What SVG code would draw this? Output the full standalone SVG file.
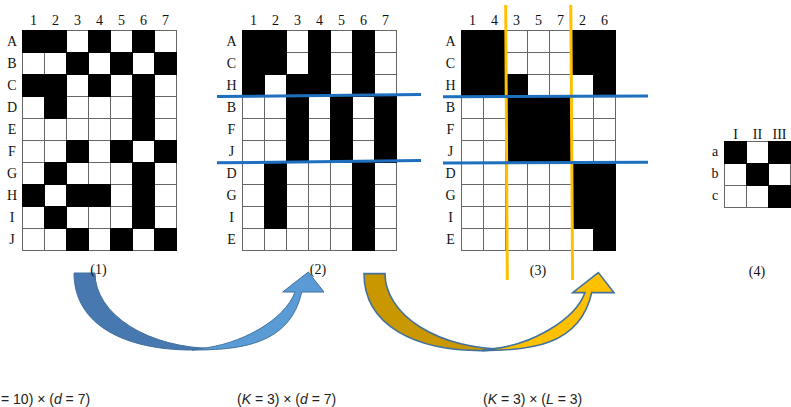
<svg xmlns="http://www.w3.org/2000/svg" xmlns:xlink="http://www.w3.org/1999/xlink" width="791" height="407" viewBox="0 0 791 407">
<style>
.g{fill:#fff;stroke:#666;stroke-width:1}
.gl{fill:none;stroke:#666;stroke-width:1}
.k{fill:#000;stroke:#000;stroke-width:1}
.lbl{font-family:"Liberation Serif","DejaVu Serif",serif;font-size:14px;fill:#111;text-anchor:middle}
.cap{font-family:"Liberation Sans",Arial,sans-serif;font-size:14px;fill:#222}
.it{font-style:italic}
.bl{stroke:#1f6fbf;stroke-width:3;fill:none}
.or{stroke:#ffc000;stroke-width:3;fill:none}
.ab{stroke:#41719c;stroke-width:1;stroke-linejoin:miter}
.ag{stroke:#41719c;stroke-width:1.6;stroke-linejoin:miter}
</style>
<defs>
<g id="grid">
<rect class="g" x="0" y="0" width="154" height="220"/>
<path class="gl" d="M22,0V220M44,0V220M66,0V220M88,0V220M110,0V220M132,0V220M0,22H154M0,44H154M0,66H154M0,88H154M0,110H154M0,132H154M0,154H154M0,176H154M0,198H154"/>
</g>
</defs>
<rect width="791" height="407" fill="#fff"/>

<g id="matrix1">
<use href="#grid" x="22.5" y="30.5"/>
<rect class="k" x="22.5" y="30.5" width="22" height="22"/>
<rect class="k" x="22.5" y="74.5" width="22" height="22"/>
<rect class="k" x="22.5" y="184.5" width="22" height="22"/>
<rect class="k" x="44.5" y="30.5" width="22" height="22"/>
<rect class="k" x="44.5" y="74.5" width="22" height="44"/>
<rect class="k" x="44.5" y="162.5" width="22" height="22"/>
<rect class="k" x="44.5" y="206.5" width="22" height="22"/>
<rect class="k" x="66.5" y="52.5" width="22" height="22"/>
<rect class="k" x="66.5" y="140.5" width="22" height="22"/>
<rect class="k" x="66.5" y="184.5" width="22" height="22"/>
<rect class="k" x="66.5" y="228.5" width="22" height="22"/>
<rect class="k" x="88.5" y="30.5" width="22" height="22"/>
<rect class="k" x="88.5" y="74.5" width="22" height="22"/>
<rect class="k" x="88.5" y="184.5" width="22" height="22"/>
<rect class="k" x="110.5" y="52.5" width="22" height="22"/>
<rect class="k" x="110.5" y="140.5" width="22" height="22"/>
<rect class="k" x="110.5" y="228.5" width="22" height="22"/>
<rect class="k" x="132.5" y="30.5" width="22" height="22"/>
<rect class="k" x="132.5" y="74.5" width="22" height="66"/>
<rect class="k" x="132.5" y="162.5" width="22" height="66"/>
<rect class="k" x="154.5" y="52.5" width="22" height="22"/>
<rect class="k" x="154.5" y="140.5" width="22" height="22"/>
<rect class="k" x="154.5" y="228.5" width="22" height="22"/>
<g class="lbl">
<text x="33.5" y="25">1</text><text x="55.5" y="25">2</text><text x="77.5" y="25">3</text><text x="99.5" y="25">4</text><text x="121.5" y="25">5</text><text x="143.5" y="25">6</text><text x="165.5" y="25">7</text>
<text x="12" y="46">A</text><text x="12" y="68">B</text><text x="12" y="90">C</text><text x="12" y="112">D</text><text x="12" y="134">E</text><text x="12" y="156">F</text><text x="12" y="178">G</text><text x="12" y="200">H</text><text x="12" y="222">I</text><text x="12" y="244">J</text>
</g>
</g>

<g id="matrix2">
<use href="#grid" x="242.5" y="30.5"/>
<rect class="k" x="242.5" y="30.5" width="22" height="66"/>
<rect class="k" x="264.5" y="30.5" width="22" height="44"/>
<rect class="k" x="264.5" y="162.5" width="22" height="66"/>
<rect class="k" x="286.5" y="74.5" width="22" height="88"/>
<rect class="k" x="308.5" y="30.5" width="22" height="66"/>
<rect class="k" x="330.5" y="96.5" width="22" height="66"/>
<rect class="k" x="352.5" y="30.5" width="22" height="66"/>
<rect class="k" x="352.5" y="162.5" width="22" height="88"/>
<rect class="k" x="374.5" y="96.5" width="22" height="66"/>
<g class="lbl">
<text x="253.5" y="25">1</text><text x="275.5" y="25">2</text><text x="297.5" y="25">3</text><text x="319.5" y="25">4</text><text x="341.5" y="25">5</text><text x="363.5" y="25">6</text><text x="385.5" y="25">7</text>
<text x="231.5" y="46">A</text><text x="231.5" y="68">C</text><text x="231.5" y="90">H</text><text x="231.5" y="112">B</text><text x="231.5" y="134">F</text><text x="231.5" y="156">J</text><text x="231.5" y="178">D</text><text x="231.5" y="200">G</text><text x="231.5" y="222">I</text><text x="231.5" y="244">E</text>
</g>
</g>

<g id="matrix3">
<use href="#grid" x="461.5" y="30.5"/>
<rect class="k" x="461.5" y="30.5" width="22" height="66"/>
<rect class="k" x="483.5" y="30.5" width="22" height="66"/>
<rect class="k" x="505.5" y="74.5" width="22" height="88"/>
<rect class="k" x="527.5" y="96.5" width="22" height="66"/>
<rect class="k" x="549.5" y="96.5" width="22" height="66"/>
<rect class="k" x="571.5" y="30.5" width="22" height="44"/>
<rect class="k" x="571.5" y="162.5" width="22" height="66"/>
<rect class="k" x="593.5" y="30.5" width="22" height="66"/>
<rect class="k" x="593.5" y="162.5" width="22" height="88"/>
<g class="lbl">
<text x="472.5" y="25">1</text><text x="494.5" y="25">4</text><text x="516.5" y="25">3</text><text x="538.5" y="25">5</text><text x="560.5" y="25">7</text><text x="582.5" y="25">2</text><text x="604.5" y="25">6</text>
<text x="450.5" y="46">A</text><text x="450.5" y="68">C</text><text x="450.5" y="90">H</text><text x="450.5" y="112">B</text><text x="450.5" y="134">F</text><text x="450.5" y="156">J</text><text x="450.5" y="178">D</text><text x="450.5" y="200">G</text><text x="450.5" y="222">I</text><text x="450.5" y="244">E</text>
</g>
</g>

<g id="matrix4">
<rect class="g" x="724.5" y="141.5" width="66" height="66"/>
<path class="gl" d="M746.5,141.5V207.5M768.5,141.5V207.5M724.5,163.5H790.5M724.5,185.5H790.5"/>
<rect class="k" x="724.5" y="141.5" width="22" height="22"/>
<rect class="k" x="768.5" y="141.5" width="22" height="22"/>
<rect class="k" x="746.5" y="163.5" width="22" height="22"/>
<rect class="k" x="768.5" y="185.5" width="22" height="22"/>
<g class="lbl">
<text x="735.5" y="138.5">I</text><text x="757.5" y="138.5">II</text><text x="779.5" y="138.5">III</text>
<text x="715" y="156">a</text><text x="715" y="178">b</text><text x="715" y="200">c</text>
</g>
</g>

<g id="cut-lines">
<path class="or" d="M505.7,5L507.3,280M570.8,5L572.6,280"/>
<path class="bl" d="M217,96.6L421,94.4M443,96.7L648,96M217,162.8L421,160.6M443,163L648,162.3"/>
</g>

<g id="connectors">
<g id="arrow-blue" class="ab">
<path fill="#4878b0" d="M74,273L95,273A120,75.5 0 0 0 215,348.5L192,350C125,350 74,325 74,273Z"/>
<path fill="#5b9bd5" d="M192,350C240,350 290,345 301.7,292L324,292L308.3,272L282.7,292L295,292C285,320 240,345 200,348.5Z"/>
</g>
<g id="arrow-gold" class="ag" transform="translate(290,0.6)">
<path fill="#c99700" d="M74,273L95,273A120,75.5 0 0 0 215,348.5L192,350C125,350 74,325 74,273Z"/>
<path fill="#ffc000" d="M192,350C240,350 290,345 301.7,292L324,292L308.3,272L282.7,292L295,292C285,320 240,345 200,348.5Z"/>
</g>
</g>

<g id="step-labels" class="lbl">
<text x="98.5" y="273.5">(1)</text>
<text x="318" y="273.5">(2)</text>
<text x="538" y="275">(3)</text>
<text x="757" y="276">(4)</text>
</g>

<g id="captions" class="cap">
<text x="1" y="404">= 10) × (<tspan class="it">d</tspan> = 7)</text>
<text x="237" y="404">(<tspan class="it">K</tspan> = 3) × (<tspan class="it">d</tspan> = 7)</text>
<text x="483" y="404">(<tspan class="it">K</tspan> = 3) × (<tspan class="it">L</tspan> = 3)</text>
</g>
</svg>
